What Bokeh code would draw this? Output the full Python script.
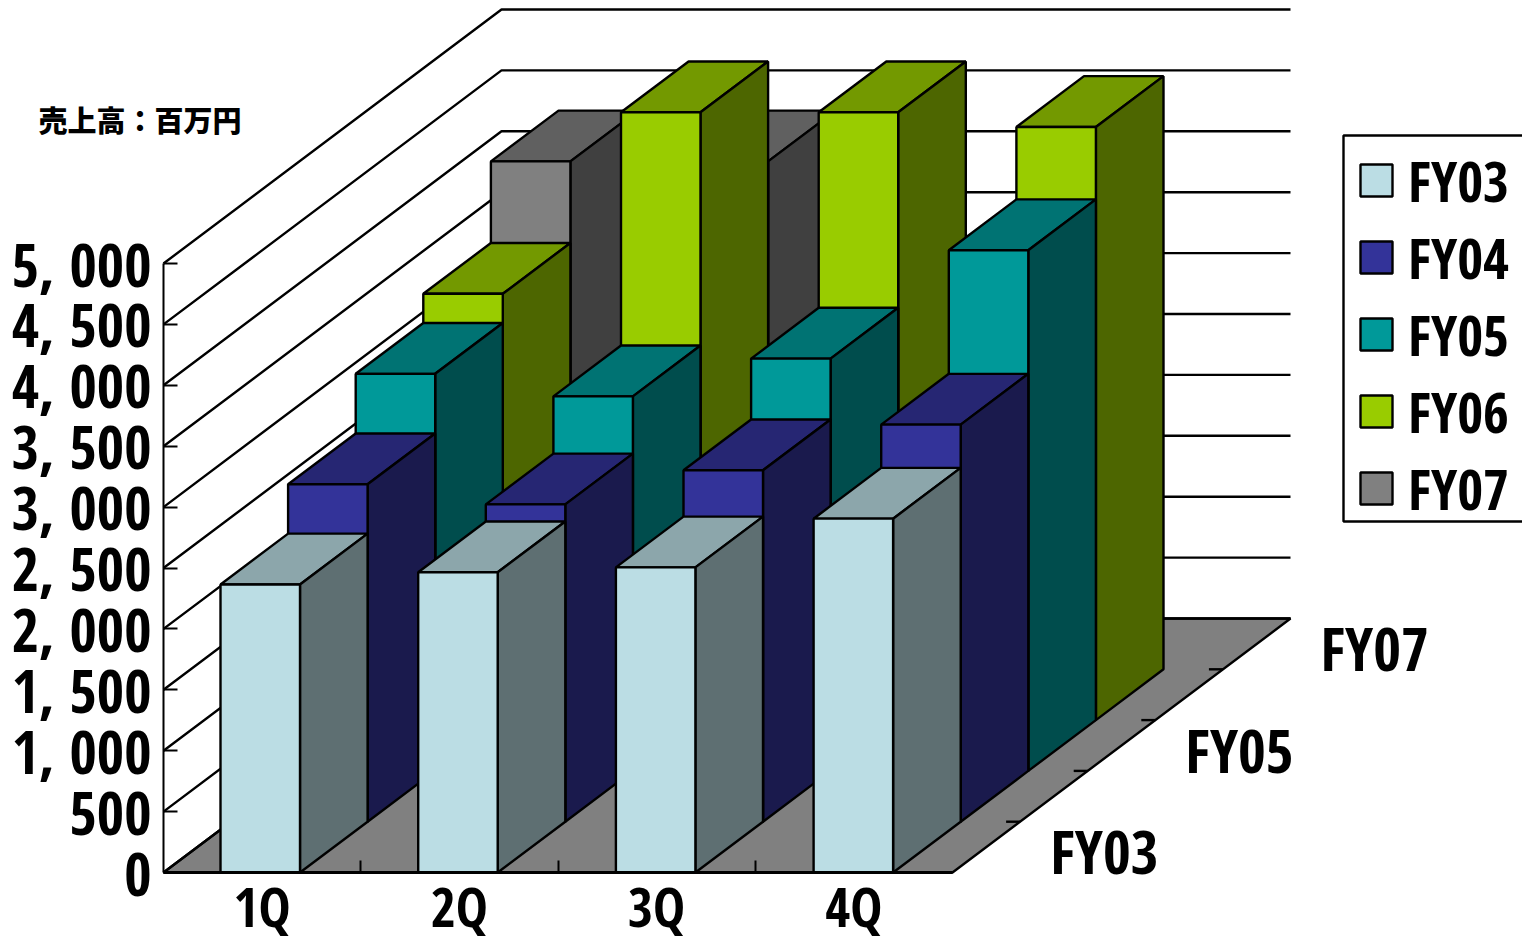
from bokeh.plotting import figure
from bokeh.models import Range1d, FixedTicker, Legend, LegendItem, Label
from bokeh.core.properties import value
from bokeh.embed import file_html
from bokeh.resources import INLINE

quarters = ["1Q", "2Q", "3Q", "4Q"]
series_names = ["FY03", "FY04", "FY05", "FY06", "FY07"]
fy03 = [2365, 2465, 2505, 2905]
fy04 = [2770, 2605, 2885, 3260]
fy05 = [3260, 3075, 3385, 4275]
fy06 = [3500, 4990, 4990, 4870]
fy07 = [4170, 4170, None, None]
value_ticks = [0, 500, 1000, 1500, 2000, 2500, 3000, 3500, 4000, 4500, 5000]
value_tick_labels = ["0", "500", "1, 000", "1, 500", "2, 000", "2, 500", "3, 000", "3, 500", "4, 000", "4, 500", "5, 000"]
depth_labels = ["FY03", None, "FY05", None, "FY07"]

all_series = [fy03, fy04, fy05, fy06, fy07]
front_colors = ["#BBDDE4", "#333399", "#009999", "#99CC00", "#808080"]
top_colors = ["#8CA6AB", "#262673", "#007373", "#739900", "#606060"]
side_colors = ["#5E6F72", "#1A1A4D", "#004D4D", "#4D6600", "#404040"]

# scales of the oblique projection
PX_PER_CAT = 197.25
PX_PER_VAL = 0.1218
DX = 67.6 / PX_PER_CAT
DY = 50.8 / PX_PER_VAL
NCAT = len(quarters)
NSER = len(series_names)
BAR_L0 = 57 / PX_PER_CAT
BAR_STEP = 197.7 / PX_PER_CAT
BAR_W = 79.5 / PX_PER_CAT
FONT = "Open Sans Condensed"
FS = "60px"
LW = 2.4
W, H = 1522, 942
ORIGIN_X, ORIGIN_Y = 163, 872


def proj(x, v, d):
    return x + d * DX, v + d * DY


def from_screen(sx, sy):
    return (sx - ORIGIN_X) / PX_PER_CAT, (ORIGIN_Y - sy) / PX_PER_VAL


p = figure(width=W, height=H, output_backend="svg", toolbar_location=None,
           x_range=Range1d(-ORIGIN_X / PX_PER_CAT, (W - ORIGIN_X) / PX_PER_CAT),
           y_range=Range1d(-(H - ORIGIN_Y) / PX_PER_VAL, ORIGIN_Y / PX_PER_VAL),
           min_border=0, outline_line_color=None)
p.grid.visible = False

# floor
fx, fy = zip(*[proj(0, 0, 0), proj(NCAT, 0, 0), proj(NCAT, 0, NSER), proj(0, 0, NSER)])
p.patch(list(fx), list(fy), fill_color="#808080", line_color="black", line_width=LW)

# walls' grid lines
gx, gy = [], []
for v in value_ticks:
    pts = [proj(0, v, 0), proj(0, v, NSER), proj(NCAT, v, NSER)]
    gx.append([a for a, _ in pts])
    gy.append([b for _, b in pts])
p.multi_line(gx, gy, line_color="black", line_width=LW)

# depth ticks on the floor edge
tx0, tx1, ty = [], [], []
for k in range(1, NSER):
    a, b = proj(NCAT, 0, k)
    tx0.append(a - 14 / PX_PER_CAT)
    tx1.append(a)
    ty.append(b)
p.segment(tx0, ty, tx1, ty, line_color="black", line_width=LW)

# bars, back to front
front_renderers = {}
for k in range(NSER - 1, -1, -1):
    fr = {"x": [], "y": []}
    tp = {"x": [], "y": []}
    sd = {"x": [], "y": []}
    for i, val in enumerate(all_series[k]):
        if val is None:
            continue
        x0 = BAR_L0 + i * BAR_STEP
        x1 = x0 + BAR_W
        for face, corners in (
            (fr, [(x0, 0, k), (x1, 0, k), (x1, val, k), (x0, val, k)]),
            (tp, [(x0, val, k), (x1, val, k), (x1, val, k + 1), (x0, val, k + 1)]),
            (sd, [(x1, 0, k), (x1, 0, k + 1), (x1, val, k + 1), (x1, val, k)]),
        ):
            pts = [proj(*c) for c in corners]
            face["x"].append([a for a, _ in pts])
            face["y"].append([b for _, b in pts])
    p.patches(tp["x"], tp["y"], fill_color=top_colors[k], line_color="black", line_width=LW)
    p.patches(sd["x"], sd["y"], fill_color=side_colors[k], line_color="black", line_width=LW)
    front_renderers[k] = p.patches(fr["x"], fr["y"], fill_color=front_colors[k], line_color="black", line_width=LW)

# depth axis labels
lx, ly, lt = [], [], []
for k, name in enumerate(depth_labels):
    if name:
        a, b = proj(NCAT, 0, k + 0.5)
        lx.append(a)
        ly.append(b)
        lt.append(name)
p.text(lx, ly, text=lt, x_offset=118, y_offset=4, text_align="center", text_baseline="middle",
       text_font=value(FONT), text_font_style="bold", text_font_size=FS, text_color="black")

# value axis
ya = p.yaxis[0]
ya.fixed_location = 0
ya.bounds = (0, 5000)
ya.ticker = FixedTicker(ticks=value_ticks)
ya.major_label_overrides = dict(zip(value_ticks, value_tick_labels))
ya.major_tick_in = 14
ya.major_tick_out = 0
ya.minor_tick_in = 0
ya.minor_tick_out = 0
ya.major_tick_line_width = 2
ya.axis_line_width = 2
ya.major_label_standoff = 12
ya.major_label_text_font = FONT
ya.major_label_text_font_style = "bold"
ya.major_label_text_font_size = "59px"
ya.major_label_text_color = "black"

# category axis
xa = p.xaxis[0]
xa.fixed_location = 0
centers = [i + 0.5 for i in range(NCAT)]
xa.bounds = (0, NCAT)
xa.ticker = FixedTicker(ticks=centers, minor_ticks=list(range(1, NCAT)))
xa.major_label_overrides = dict(zip(centers, quarters))
xa.major_tick_in = 0
xa.major_tick_out = 0
xa.minor_tick_in = 12
xa.minor_tick_out = 0
xa.minor_tick_line_width = 2
xa.axis_line_width = 3
xa.major_label_standoff = -4
xa.major_label_text_font = FONT
xa.major_label_text_font_style = "bold"
xa.major_label_text_font_size = "54px"
xa.major_label_text_color = "black"

# unit note
nx, ny = from_screen(38, 118)
p.add_layout(Label(x=nx, y=ny, text="売上高：百万円",
                   text_font="Noto Sans CJK JP Black", text_font_style="bold", text_font_size="29px",
                   text_baseline="middle", text_color="black"))

# legend frame, running off the right edge as in the reference
bx0, by0 = from_screen(1343, 521)
bx1, by1 = from_screen(W + 10, 135)
p.quad(left=[bx0], right=[bx1], bottom=[by0], top=[by1], fill_color="white", line_color="black", line_width=LW)

legend = Legend(items=[LegendItem(label=series_names[k], renderers=[front_renderers[k]]) for k in range(NSER)],
                location=(1356, 416), orientation="vertical",
                glyph_width=40, glyph_height=40, label_standoff=12, label_height=44, spacing=1,
                padding=0, margin=0, border_line_color=None,
                background_fill_alpha=0,
                label_text_font=FONT, label_text_font_style="bold", label_text_font_size="56px",
                label_text_color="black")
p.add_layout(legend, "center")

open("out.html", "w").write(file_html(p, INLINE))
